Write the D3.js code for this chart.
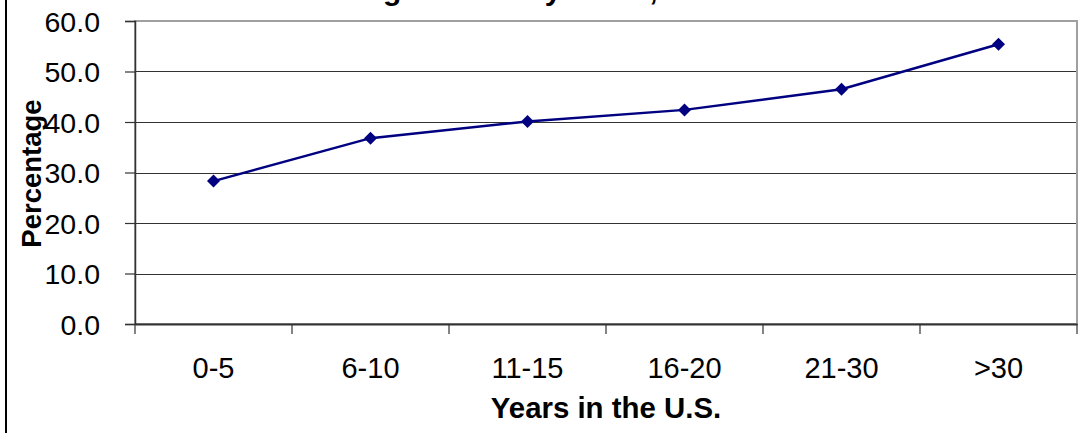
<!DOCTYPE html>
<html>
<head>
<meta charset="utf-8">
<script src="https://cdn.jsdelivr.net/npm/d3@7"></script>
<style>
  html, body { margin: 0; padding: 0; background: #fff; }
  svg { display: block; font-family: Arial, "Liberation Sans", sans-serif; }
</style>
</head>
<body>
<svg id="chart" width="1082" height="433"></svg>
<script>
const categories = ["0-5", "6-10", "11-15", "16-20", "21-30", ">30"];
const values = [28.3, 36.8, 40.1, 42.4, 46.5, 55.4];
const yTicks = [0, 10, 20, 30, 40, 50, 60];
const titleText = "Percent Owning a Home by Years, 2000";
const xTitle = "Years in the U.S.";
const yTitle = "Percentage";

const svg = d3.select("#chart");
const W = 1082, H = 433;
const plot = { left: 135, right: 1077, top: 21, bottom: 324 };

const x = d3.scaleBand().domain(categories).range([plot.left, plot.right]).padding(0);
const y = d3.scaleLinear().domain([0, 60]).range([plot.bottom, plot.top]);

svg.append("rect").attr("width", W).attr("height", H).attr("fill", "#fff");

// outer chart border (left edge visible)
svg.append("line").attr("x1", 6).attr("x2", 6).attr("y1", 0).attr("y2", H)
  .attr("stroke", "#000").attr("stroke-width", 2);

// title (mostly cut off at top, as in the reference)
svg.append("text").attr("x", 173).attr("y", 0)
  .attr("font-size", 30).attr("font-weight", "bold").attr("fill", "#000")
  .text(titleText);

// gridlines
svg.append("g").selectAll("line").data(yTicks.filter(d => d > 0 && d < 60)).join("line")
  .attr("x1", plot.left).attr("x2", plot.right)
  .attr("y1", d => Math.round(y(d)) + 0.5).attr("y2", d => Math.round(y(d)) + 0.5)
  .attr("stroke", "#333").attr("stroke-width", 1.2);

// plot area border
svg.append("rect").attr("x", plot.left).attr("y", plot.top)
  .attr("width", plot.right - plot.left).attr("height", plot.bottom - plot.top)
  .attr("fill", "none").attr("stroke", "#a0a0a0").attr("stroke-width", 2);

// y axis
const yAxis = d3.axisLeft(y).tickValues(yTicks).tickSize(10).tickPadding(25)
  .tickFormat(d3.format(".1f"));
const gy = svg.append("g").attr("transform", `translate(${plot.left},0)`).call(yAxis);
gy.select(".domain").attr("stroke", "#333").attr("stroke-width", 1.5);
gy.selectAll(".tick line").attr("stroke", "#333").attr("stroke-width", 1.2);
gy.selectAll(".tick text").attr("font-size", 28.5).attr("fill", "#000")
  .attr("dy", "0.36em")
  .attr("font-family", "Arial, 'Liberation Sans', sans-serif");

// x axis
const xAxis = d3.axisBottom(x).tickSize(0).tickPadding(0);
const gx = svg.append("g").attr("transform", `translate(0,${plot.bottom})`).call(xAxis);
gx.select(".domain").attr("stroke", "#333").attr("stroke-width", 2);
gx.selectAll(".tick text").attr("font-size", 29).attr("fill", "#000")
  .attr("dy", null).attr("y", 54)
  .attr("font-family", "Arial, 'Liberation Sans', sans-serif");

// category boundary ticks
const bounds = categories.map(c => x(c)).concat([x(categories[categories.length - 1]) + x.bandwidth()]);
svg.append("g").selectAll("line").data(bounds).join("line")
  .attr("x1", d => d).attr("x2", d => d)
  .attr("y1", plot.bottom).attr("y2", plot.bottom + 10)
  .attr("stroke", "#333").attr("stroke-width", 1.2);

// axis titles
svg.append("text").attr("x", (plot.left + plot.right) / 2).attr("y", 418)
  .attr("text-anchor", "middle").attr("font-size", 29.4).attr("font-weight", "bold")
  .text(xTitle);
svg.append("text").attr("transform", `translate(41,${(plot.top + plot.bottom) / 2 + 1}) rotate(-90)`)
  .attr("text-anchor", "middle").attr("font-size", 27.5).attr("font-weight", "bold")
  .text(yTitle);

// line
const cx = d => x(d.c) + x.bandwidth() / 2;
const data = categories.map((c, i) => ({ c, v: values[i] }));
svg.append("path").datum(data)
  .attr("d", d3.line().x(cx).y(d => y(d.v)))
  .attr("fill", "none").attr("stroke", "#000080").attr("stroke-width", 2.5);

// diamond markers
svg.append("g").selectAll("path").data(data).join("path")
  .attr("transform", d => `translate(${cx(d)},${y(d.v)})`)
  .attr("d", "M0,-6.5L6.5,0L0,6.5L-6.5,0Z")
  .attr("fill", "#000080");
</script>
</body>
</html>
